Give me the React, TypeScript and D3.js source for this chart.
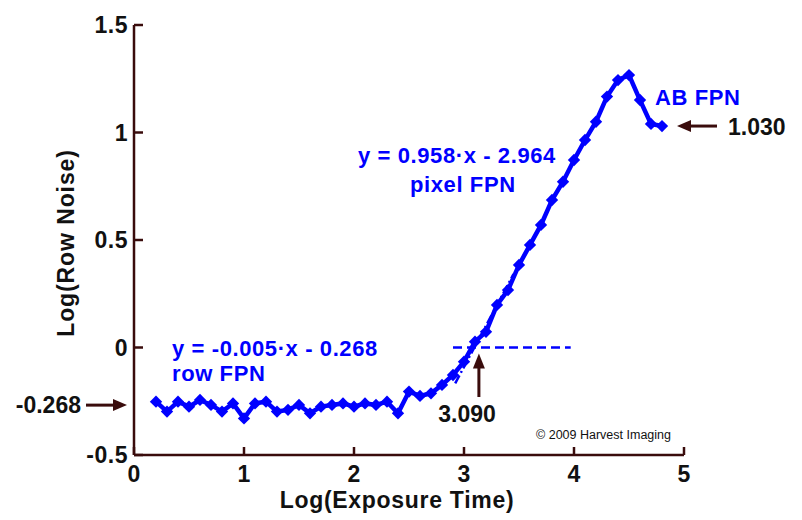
import React from "react";
import * as d3 from "d3";

// Log of exposure time (x) and log of row noise (y) per measurement
const logExposure = [
  0.2, 0.3, 0.4, 0.5, 0.6, 0.7, 0.8, 0.9, 1.0, 1.1, 1.2, 1.3, 1.4, 1.5, 1.6, 1.7,
  1.8, 1.9, 2.0, 2.1, 2.2, 2.3, 2.4, 2.5, 2.6, 2.7, 2.8, 2.9, 3.0, 3.1, 3.2, 3.3,
  3.4, 3.5, 3.6, 3.7, 3.8, 3.9, 4.0, 4.1, 4.2, 4.3, 4.4, 4.5, 4.6, 4.7, 4.8,
];
const logRowNoise = [
  -0.252, -0.298, -0.252, -0.275, -0.244, -0.267, -0.298, -0.26, -0.33, -0.26,
  -0.252, -0.298, -0.29, -0.267, -0.306, -0.275, -0.267, -0.26, -0.275, -0.26,
  -0.267, -0.252, -0.306, -0.205, -0.225, -0.213, -0.174, -0.128, -0.066, 0.027,
  0.073, 0.198, 0.267, 0.384, 0.477, 0.57, 0.686, 0.771, 0.872, 0.965, 1.05,
  1.167, 1.244, 1.267, 1.151, 1.04, 1.03,
];

const xTicks = [0, 1, 2, 3, 4, 5];
const yTicks = [-0.5, 0, 0.5, 1, 1.5];
const yTickLabels = ["-0.5", "0", "0.5", "1", "1.5"];

// Fit results
const pixelSlope = 0.958;
const pixelOffset = -2.964;
const rowSlope = -0.005;
const rowOffset = -0.268;
const crossing = 3.09;
const abLevel = 1.03;

const BLUE = "#0000ff";
const DARK = "#3a0c0c";
const FONT = "'Liberation Sans', Arial, sans-serif";

export default function App() {
  const x = d3.scaleLinear().domain([0, 5]).range([134, 684]);
  const y = d3.scaleLinear().domain([-0.5, 1.5]).range([455, 25]);

  const pts = logExposure.map((v, i) => [v, logRowNoise[i]] as [number, number]);
  const line = d3
    .line<[number, number]>()
    .x((d) => x(d[0]))
    .y((d) => y(d[1]));
  const diamond = d3.symbol().type(d3.symbolSquare).size(76)() as string;

  const fitX0 = 2.92;
  const fitX1 = 3.45;
  const fitPath = line([
    [fitX0, pixelSlope * fitX0 + pixelOffset],
    [fitX1, pixelSlope * fitX1 + pixelOffset],
  ]) as string;

  const arrowX = x(crossing) + 5;
  const leftY = y(rowOffset);
  const abY = y(abLevel);

  const bold = { fontFamily: FONT, fontWeight: 700 } as const;

  return (
    <svg
      width={802}
      height={520}
      style={{ position: "absolute", left: 0, top: 0, background: "#fff" }}
    >
      {/* axes */}
      <g stroke={DARK} strokeWidth={2.5} fill="none">
        <line x1={x(0)} y1={y(-0.5)} x2={x(5)} y2={y(-0.5)} />
        <line x1={x(0)} y1={y(-0.5)} x2={x(0)} y2={y(1.5)} />
        {yTicks.map((t) => (
          <line key={"yt" + t} x1={x(0)} x2={x(0) + 9} y1={y(t)} y2={y(t)} />
        ))}
        {xTicks.map((t) => (
          <line key={"xt" + t} x1={x(t)} x2={x(t)} y1={y(-0.5)} y2={y(-0.5) - 8} />
        ))}
      </g>
      <g {...bold} fontSize={23} fill="#111">
        {yTicks.map((t, i) => (
          <text key={"yl" + t} x={x(0) - 6} y={y(t) + 8} textAnchor="end" letterSpacing={0.5}>
            {yTickLabels[i]}
          </text>
        ))}
        {xTicks.map((t) => (
          <text key={"xl" + t} x={x(t)} y={482} textAnchor="middle">
            {t}
          </text>
        ))}
        <text x={397} y={508} textAnchor="middle" letterSpacing={0.7}>
          Log(Exposure Time)
        </text>
        <text transform="translate(74,243) rotate(-90)" textAnchor="middle" letterSpacing={0.9}>
          Log(Row Noise)
        </text>
      </g>

      {/* zero reference and pixel FPN fit */}
      <line
        x1={x(2.9)}
        x2={x(3.97)}
        y1={y(0)}
        y2={y(0)}
        stroke={BLUE}
        strokeWidth={2.5}
        strokeDasharray="9 5"
      />
      <path
        d={fitPath}
        stroke={BLUE}
        strokeWidth={2.5}
        fill="none"
        strokeDasharray="9 3 2 3"
      />

      {/* measured row noise */}
      <path d={line(pts) as string} stroke={BLUE} strokeWidth={4.5} fill="none" />
      {pts.map((p, i) => (
        <path
          key={i}
          d={diamond}
          fill={BLUE}
          transform={`translate(${x(p[0])},${y(p[1])}) rotate(45)`}
        />
      ))}

      {/* arrows */}
      <g stroke={DARK} strokeWidth={3} fill={DARK}>
        <line x1={86} y1={leftY} x2={116} y2={leftY} />
        <path d={`M${127},${leftY} L${113},${leftY - 6} L${113},${leftY + 6} Z`} stroke="none" />
        <line x1={arrowX} y1={397} x2={arrowX} y2={368} />
        <path d={`M${arrowX},${y(0) + 6} L${arrowX - 6},${y(0) + 21} L${arrowX + 6},${y(0) + 21} Z`} stroke="none" />
        <line x1={717} y1={abY} x2={688} y2={abY} />
        <path d={`M${677},${abY} L${691},${abY - 6} L${691},${abY + 6} Z`} stroke="none" />
      </g>

      {/* annotations */}
      <g {...bold} fontSize={23} fill="#111">
        <text x={81} y={413} textAnchor="end">
          {rowOffset.toFixed(3)}
        </text>
        <text x={467} y={422} textAnchor="middle">
          {crossing.toFixed(3)}
        </text>
        <text x={728} y={135}>
          {abLevel.toFixed(3)}
        </text>
      </g>
      <g {...bold} fontSize={22} fill={BLUE} letterSpacing={0.6}>
        <text x={172} y={356}>
          {`y = ${rowSlope.toFixed(3)}·x - ${Math.abs(rowOffset).toFixed(3)}`}
        </text>
        <text x={172} y={381}>
          row FPN
        </text>
        <text x={358} y={163}>
          {`y = ${pixelSlope.toFixed(3)}·x - ${Math.abs(pixelOffset).toFixed(3)}`}
        </text>
        <text x={410} y={192}>
          pixel FPN
        </text>
        <text x={655} y={105}>
          AB FPN
        </text>
      </g>
      <text x={536} y={439} fontFamily={FONT} fontSize={12.5} fill="#111">
        © 2009 Harvest Imaging
      </text>
    </svg>
  );
}
